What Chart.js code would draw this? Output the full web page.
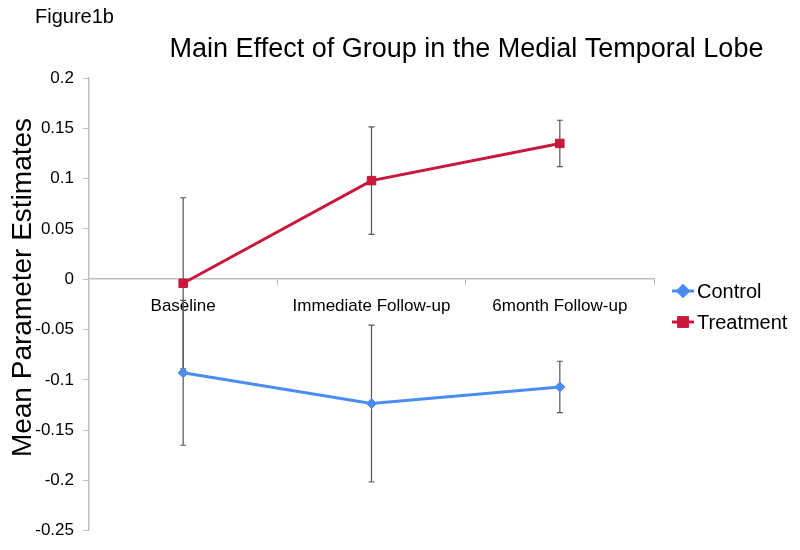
<!DOCTYPE html>
<html><head><meta charset="utf-8">
<script src="https://cdn.jsdelivr.net/npm/chart.js@4.4.1/dist/chart.umd.min.js"></script>
<style>html,body{margin:0;padding:0;background:#fff}#wrap{width:800px;height:550px;position:relative}</style>
</head><body><div id="wrap"><canvas id="c" width="800" height="550"></canvas></div>
<script>
const categories = ['Baseline', 'Immediate Follow-up', '6month Follow-up'];
const controlValues = [-0.093, -0.1235, -0.107];
const controlErrors = [0.072, 0.078, 0.0255];
const treatmentValues = [-0.004, 0.098, 0.135];
const treatmentErrors = [0.085, 0.0535, 0.023];
const yTickValues = [0.2, 0.15, 0.1, 0.05, 0, -0.05, -0.1, -0.15, -0.2, -0.25];
const yTickLabels = ['0.2', '0.15', '0.1', '0.05', '0', '-0.05', '-0.1', '-0.15', '-0.2', '-0.25'];
const seriesNames = ['Control', 'Treatment'];
const chartTitle = 'Main Effect of Group in the Medial Temporal Lobe';
const figureLabel = 'Figure1b';
const yAxisTitle = 'Mean Parameter Estimates';

const FONT = '"Liberation Sans", Arial, sans-serif';
const AXIS_GRAY = '#bfbfbf';
const ERR_COLOR = '#555555';

const decor = {
  id: 'decor',
  beforeDatasetsDraw(chart) {
    const ctx = chart.ctx;
    const yS = chart.scales.y;
    ctx.save();
    ctx.strokeStyle = ERR_COLOR;
    ctx.lineWidth = 1.2;
    chart.data.datasets.forEach((ds, di) => {
      const meta = chart.getDatasetMeta(di);
      ds.errors.forEach((e, i) => {
        const x = meta.data[i].x;
        const v = ds.data[i];
        const yt = yS.getPixelForValue(v + e);
        const yb = yS.getPixelForValue(v - e);
        ctx.beginPath();
        ctx.moveTo(x, yt); ctx.lineTo(x, yb);
        ctx.moveTo(x - 3, yt); ctx.lineTo(x + 3, yt);
        ctx.moveTo(x - 3, yb); ctx.lineTo(x + 3, yb);
        ctx.stroke();
      });
    });
    ctx.restore();
  },
  afterDraw(chart) {
    const ctx = chart.ctx;
    ctx.save();
    ctx.fillStyle = '#000';
    ctx.textBaseline = 'alphabetic';
    ctx.textAlign = 'left';
    ctx.font = '20px ' + FONT;
    ctx.fillText(figureLabel, 35, 23);
    ctx.font = '27px ' + FONT;
    ctx.textAlign = 'center';
    ctx.fillText(chartTitle, 466.5, 57);
    ctx.save();
    ctx.font = '28px ' + FONT;
    ctx.translate(30.5, 287.5);
    ctx.rotate(-Math.PI / 2);
    ctx.fillText(yAxisTitle, 0, 0);
    ctx.restore();
    // legend
    const legendY = [291, 322];
    chart.data.datasets.forEach((ds, i) => {
      const y = legendY[i];
      ctx.strokeStyle = ds.borderColor;
      ctx.lineWidth = 3;
      ctx.beginPath();
      ctx.moveTo(672, y); ctx.lineTo(694, y);
      ctx.stroke();
      ctx.fillStyle = ds.backgroundColor;
      Chart.helpers.drawPoint(ctx, {pointStyle: ds.pointStyle, radius: ds.pointRadius, borderWidth: 1, rotation: 0}, 683, y);
      ctx.fill();
      ctx.stroke();
      ctx.fillStyle = '#000';
      ctx.textAlign = 'left';
      ctx.textBaseline = 'middle';
      ctx.font = '20px ' + FONT;
      ctx.fillText(ds.label, 697, y + 1);
    });
    ctx.restore();
  }
};

new Chart(document.getElementById('c'), {
  type: 'line',
  data: {
    labels: categories,
    datasets: [
      {
        label: seriesNames[0], data: controlValues, errors: controlErrors,
        borderColor: '#4a8cf2', backgroundColor: '#4a8cf2', borderWidth: 3,
        pointStyle: 'rectRot', pointRadius: 5, pointBorderWidth: 1, tension: 0
      },
      {
        label: seriesNames[1], data: treatmentValues, errors: treatmentErrors,
        borderColor: '#c8183c', backgroundColor: '#c8183c', borderWidth: 3,
        pointStyle: 'rect', pointRadius: 6, pointBorderWidth: 1, tension: 0
      }
    ]
  },
  options: {
    responsive: false,
    animation: false,
    devicePixelRatio: 1,
    layout: {padding: {left: 0, right: 146, top: 78, bottom: 13}},
    plugins: {legend: {display: false}, title: {display: false}, tooltip: {enabled: false}},
    scales: {
      x: {
        type: 'category',
        position: {y: 0},
        offset: true,
        grid: {display: true, offset: true, drawOnChartArea: false, drawTicks: true, tickLength: 6, color: AXIS_GRAY, lineWidth: 1},
        border: {display: true, color: AXIS_GRAY, width: 1.5},
        ticks: {color: '#000', font: {size: 17, family: FONT}, padding: 11, maxRotation: 0, autoSkip: false}
      },
      y: {
        type: 'linear',
        min: -0.25, max: 0.2,
        afterBuildTicks: s => { s.ticks = yTickValues.map(v => ({value: v})); },
        afterFit: s => { s.width = 89; },
        grid: {display: true, drawOnChartArea: false, drawTicks: true, tickLength: 6, color: AXIS_GRAY, lineWidth: 1},
        border: {display: true, color: AXIS_GRAY, width: 1.5},
        ticks: {
          color: '#000', font: {size: 17, family: FONT}, padding: 9,
          callback: v => { const i = yTickValues.findIndex(t => Math.abs(t - v) < 1e-9); return i >= 0 ? yTickLabels[i] : ''; }
        }
      }
    }
  },
  plugins: [decor]
});
</script>
</body></html>
